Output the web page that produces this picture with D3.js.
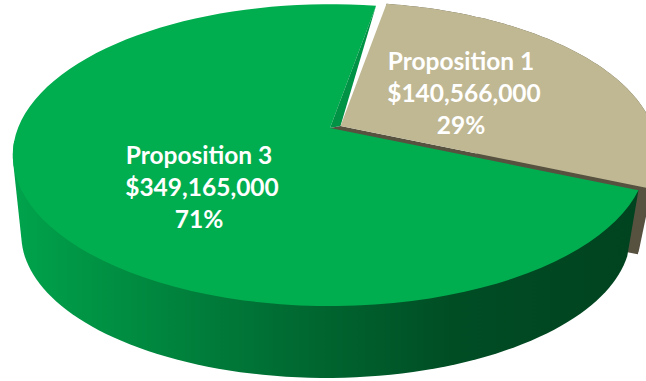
<!DOCTYPE html>
<html lang="en">
<head>
  <meta charset="UTF-8">
  <title>Proposition funding</title>
  <style>
    * { margin: 0; padding: 0; box-sizing: border-box; }
    html, body { background: #fff; overflow: hidden; }
    svg { display: block; }
    .label { font-family: Lato, 'Open Sans', sans-serif; font-weight: 700; font-size: 24.5px; fill: #fff; text-anchor: middle; }
  </style>
  <script src="https://cdn.jsdelivr.net/npm/d3@7/dist/d3.min.js"></script>
</head>
<body>
  <svg id="chart" width="646" height="381"></svg>

  <script>
    const categories = ['Proposition 1', 'Proposition 3'];
    const amounts = [140566000, 349165000];
    const percents = ['29%', '71%'];

    const width = 646, height = 381;
    const svg = d3.select('#chart');

    // perspective pie: unit disc mapped on to the top and bottom faces
    const topFace = { cx: 330, R: 312, a: 123, b: 128, c: -0.18 };
    const lowFace = { cx: 326, R: 294, a: 81.4, b: 197.5, c: -0.262 };
    const explode = [10.5, -2];
    const startDeg = 10;
    const hullEndDeg = 265;
    const steps = 90;

    function project(face, angle, r = 1) {
      const u = r * Math.sin(angle), v = -r * Math.cos(angle);
      const w = 1 + face.c * v;
      return [face.cx + face.R * u / w, (face.a * v + face.b) / w];
    }

    function arcPoints(face, a0, a1) {
      return d3.range(steps + 1).map(i => project(face, a0 + (a1 - a0) * i / steps));
    }

    const rad = d => d * Math.PI / 180;
    const shift = pts => pts.map(p => [p[0] + explode[0], p[1] + explode[1]]);
    const line = d3.line();
    const closed = pts => line(pts) + 'Z';

    const slices = d3.pie().sort(null)
      .startAngle(rad(startDeg))
      .endAngle(rad(startDeg + 360))(amounts);
    const [tan, green] = slices;

    const defs = svg.append('defs');
    const grad = defs.append('linearGradient').attr('id', 'side')
      .attr('gradientUnits', 'userSpaceOnUse')
      .attr('x1', 0).attr('x2', width).attr('y1', 0).attr('y2', 0);
    [[0.03, '#00a24b'], [0.2, '#008c41'], [0.45, '#006b32'], [0.7, '#004d24'], [1, '#00421f']]
      .forEach(s => grad.append('stop').attr('offset', s[0]).attr('stop-color', s[1]));

    // tan slice walls go first, the green slice covers what it hides
    const tanTop = arcPoints(topFace, tan.startAngle, tan.endAngle);
    const tanLow = arcPoints(lowFace, tan.startAngle, tan.endAngle);
    const topCentre = project(topFace, 0, 0);
    const lowCentre = project(lowFace, 0, 0);
    const tanCentre = shift([topCentre])[0];

    svg.append('path')
      .attr('d', closed(d3.polygonHull(shift(tanTop.concat(tanLow)))))
      .attr('fill', '#575140');
    svg.append('path')
      .attr('d', closed([topCentre, tanCentre].concat(shift([tanTop[steps], tanLow[steps], lowCentre]))))
      .attr('fill', '#575140');

    const greenTop = arcPoints(topFace, green.startAngle, green.endAngle);
    const wallTop = arcPoints(topFace, green.startAngle, rad(hullEndDeg));
    const wallLow = arcPoints(lowFace, green.startAngle, rad(hullEndDeg));

    svg.append('path')
      .attr('d', closed(d3.polygonHull(wallTop.concat(wallLow))))
      .attr('fill', 'url(#side)');
    svg.append('path')
      .attr('d', closed([topCentre].concat(greenTop)))
      .attr('fill', '#00ae4f');

    // inner cut of the green slice, seen beside the tan slice
    svg.append('path')
      .attr('d', closed([topCentre, greenTop[steps], tanCentre]))
      .attr('fill', '#009245');

    svg.append('path')
      .attr('d', closed([tanCentre].concat(shift(tanTop))))
      .attr('fill', '#bfb893');

    const labelPos = [[461, 70], [199, 164]];
    const money = d3.format('$,');
    const lineGap = 32;
    const amountNudge = 3;

    categories.forEach((name, i) => {
      const rows = [name, money(amounts[i]), percents[i]];
      svg.append('g').selectAll('text').data(rows).join('text')
        .attr('class', 'label')
        .attr('x', (d, j) => labelPos[i][0] + (j === 1 ? amountNudge : 0))
        .attr('y', (d, j) => labelPos[i][1] + j * lineGap)
        .text(d => d);
    });
  </script>
</body>
</html>
